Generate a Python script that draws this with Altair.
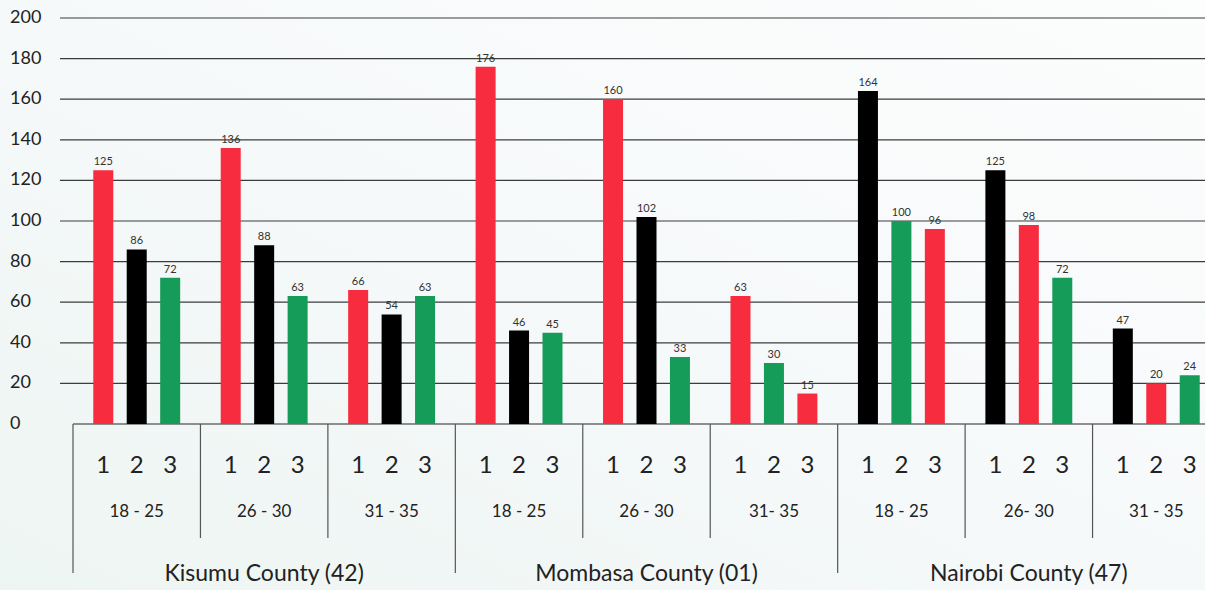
import altair as alt
import pandas as pd

# Survey counts by county, age band and response (1, 2, 3)
counties = ["Kisumu County (42)", "Mombasa County (01)", "Nairobi County (47)"]
age_labels = [
    ["18 - 25", "26 - 30", "31 - 35"],
    ["18 - 25", "26 - 30", "31- 35"],
    ["18 - 25", "26- 30", "31 - 35"],
]
responses = ["1", "2", "3"]
values = [
    [[125, 86, 72], [136, 88, 63], [66, 54, 63]],
    [[176, 46, 45], [160, 102, 33], [63, 30, 15]],
    [[164, 100, 96], [125, 98, 72], [47, 20, 24]],
]
RED, BLACK, GREEN = "#f72c3e", "#000000", "#149c58"
bar_colors = [
    [[RED, BLACK, GREEN], [RED, BLACK, GREEN], [RED, BLACK, GREEN]],
    [[RED, BLACK, GREEN], [RED, BLACK, GREEN], [RED, GREEN, RED]],
    [[BLACK, GREEN, RED], [BLACK, RED, GREEN], [BLACK, RED, GREEN]],
]
y_ticks = [0, 20, 40, 60, 80, 100, 120, 140, 160, 180, 200]

FONT = "Lato"
W, H = 1205, 590

# ---- tables built from the lists above ----
bar_rows, group_rows, resp_rows = [], [], []
for ci, county in enumerate(counties):
    for ai, age in enumerate(age_labels[ci]):
        key = f"{ci}-{ai}"
        group_rows.append({"grp": key, "age": age, "county": county,
                           "first": ai == 0, "middle": ai == 1})
        for ri, r in enumerate(responses):
            bar_rows.append({"grp": key, "resp": r,
                             "value": values[ci][ai][ri],
                             "color": bar_colors[ci][ai][ri]})
            resp_rows.append({"grp": key, "resp": r})

bars_df = pd.DataFrame(bar_rows)
groups_df = pd.DataFrame(group_rows)
resp_df = pd.DataFrame(resp_rows)
ticks_df = pd.DataFrame({"value": y_ticks})
grp_order = list(groups_df["grp"])

# the band layout runs a little past the right edge of the page
x_scale = alt.Scale(domain=grp_order, range=[73, 1220], paddingInner=0, paddingOuter=0)
off_scale = alt.Scale(domain=responses, paddingInner=0.39, paddingOuter=0.6)
y_scale = alt.Scale(domain=[0, 200], range=[424, 18])

X = alt.X("grp:N", scale=x_scale, axis=None)
XO = alt.XOffset("resp:N", scale=off_scale)
Y = alt.Y("value:Q", scale=y_scale, axis=None)

# soft background wash
bg = alt.Chart(pd.DataFrame({"a": [0]})).mark_rect(
    color=alt.LinearGradient(
        gradient="linear", x1=1, y1=0, x2=0, y2=1,
        stops=[alt.GradientStop(color="#fcfdfd", offset=0),
               alt.GradientStop(color="#f6f9fa", offset=0.5),
               alt.GradientStop(color="#edf5f2", offset=1)],
    )
).encode(x=alt.value(0), x2=alt.value(W), y=alt.value(0), y2=alt.value(H))

grid = alt.Chart(ticks_df).transform_filter("datum.value > 0").mark_rule(
    color="#3c3c3c", strokeWidth=1.2
).encode(x=alt.value(60), x2=alt.value(W), y=Y)

baseline = alt.Chart(ticks_df).transform_filter("datum.value == 0").mark_rule(
    color="#6b6b6b", strokeWidth=1.5
).encode(x=alt.value(73), x2=alt.value(W), y=Y)

y_labels = alt.Chart(ticks_df).mark_text(
    align="left", baseline="middle", font=FONT, fontSize=18, color="#222222"
).encode(x=alt.value(10), y=Y, text="value:Q")

bars = alt.Chart(bars_df).mark_bar(size=20).encode(
    x=X, xOffset=XO, y=Y, color=alt.Color("color:N", scale=None)
)

bar_values = alt.Chart(bars_df).mark_text(
    baseline="bottom", dy=-3, font=FONT, fontSize=11, color="#333333"
).encode(x=X, xOffset=XO, y=Y, text="value:Q")

resp_labels = alt.Chart(resp_df).mark_text(
    baseline="middle", font=FONT, fontSize=24, color="#222222"
).encode(x=X, xOffset=XO, y=alt.value(466), text="resp:N")

age_text = alt.Chart(groups_df).mark_text(
    baseline="middle", font=FONT, fontSize=17, color="#222222"
).encode(x=X, y=alt.value(512), text="age:N")

age_dividers = alt.Chart(groups_df).transform_filter("!datum.first").mark_rule(
    color="#555555", strokeWidth=1.2
).encode(x=alt.X("grp:N", scale=x_scale, axis=None, bandPosition=0),
         y=alt.value(424), y2=alt.value(538))

county_dividers = alt.Chart(groups_df).transform_filter("datum.first").mark_rule(
    color="#555555", strokeWidth=1.2
).encode(x=alt.X("grp:N", scale=x_scale, axis=None, bandPosition=0),
         y=alt.value(424), y2=alt.value(573))

county_text = alt.Chart(groups_df).transform_filter("datum.middle").mark_text(
    baseline="middle", font=FONT, fontSize=23, color="#222222"
).encode(x=X, y=alt.value(574), text="county:N")

chart = alt.layer(
    bg, grid, baseline, y_labels, bars, bar_values, resp_labels,
    age_text, age_dividers, county_dividers, county_text
).properties(
    width=W, height=H, padding=0, autosize=alt.AutoSizeParams(type="none")
).configure_view(stroke=None)

chart.save("out.html", embed_options={"renderer": "svg", "actions": False})
